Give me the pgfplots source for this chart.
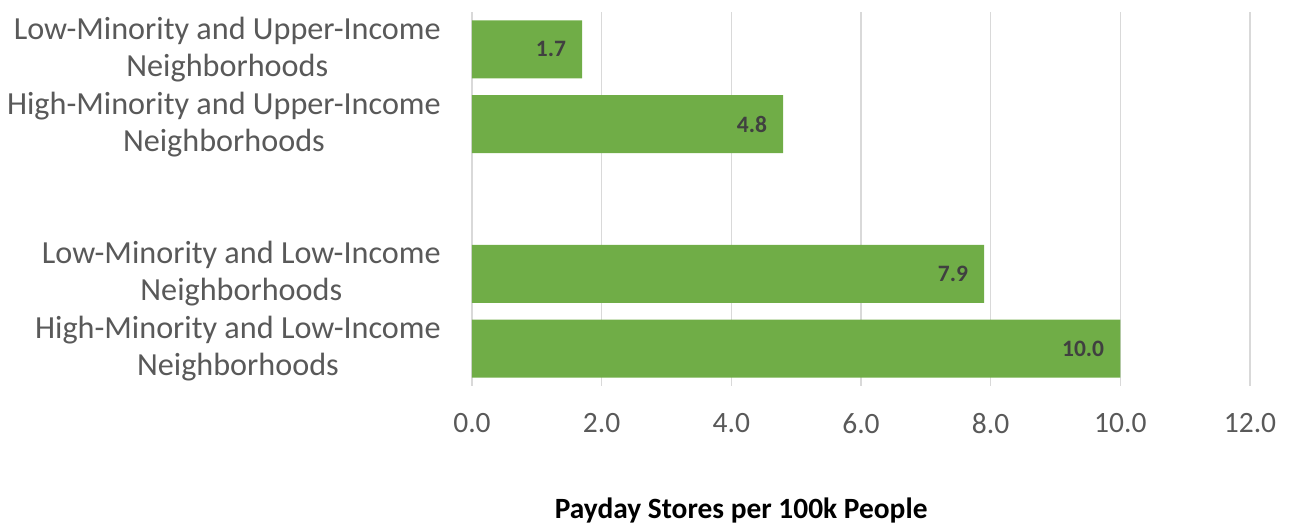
\documentclass[border=0pt]{standalone}
\usepackage{fontspec}
\setmainfont{Carlito}
\usepackage{pgfplots}
\pgfplotsset{compat=1.18}
\definecolor{bargreen}{HTML}{70AD47}
\definecolor{gridgray}{HTML}{D9D9D9}
\definecolor{ticktext}{HTML}{595959}
\definecolor{labeltext}{HTML}{404040}
\begin{document}
\begin{tikzpicture}[x=1pt,y=1pt]
\useasboundingbox (-472,-137) rectangle (819,386);
\begin{axis}[
  at={(0,0)}, anchor=south west,
  scale only axis, width=778pt, height=374pt,
  xbar, bar width=58pt,
  xmin=0, xmax=12, ymin=-0.5, ymax=4.5, y dir=reverse,
  ytick={0,1,3,4},
  yticklabels={{Low-Minority and Upper-Income\\Neighborhoods},
               {High-Minority and Upper-Income\\Neighborhoods},
               {Low-Minority and Low-Income\\Neighborhoods},
               {High-Minority and Low-Income\\Neighborhoods}},
  xtick={0,2,...,12},
  xmajorgrids, grid style={gridgray, line width=1.3pt},
  axis line style={draw=none},
  major tick length=0pt,
  /pgf/number format/assume math mode=true,
  xticklabel style={/pgf/number format/.cd, fixed, fixed zerofill, precision=1, /tikz/.cd,
    font=\fontsize{29.5}{35}\selectfont, text=ticktext, anchor=north, inner sep=0pt, yshift=-27pt},
  yticklabel style={align=center, font=\fontsize{32.2}{37.2}\selectfont, text=ticktext, inner sep=0pt, xshift=-31pt},
  xlabel={Payday Stores per 100k People},
  xlabel style={at={(axis description cs:0.346,-0.332)}, anchor=center, font=\bfseries\fontsize{29.4}{35}\selectfont, text=black},
  nodes near coords={\pgfmathprintnumber[fixed,fixed zerofill,precision=1]{\pgfplotspointmeta}},
  point meta=x,
  every node near coord/.append style={anchor=east, inner sep=0pt, xshift=-16pt,
    font=\bfseries\fontsize{23.5}{28}\selectfont, text=labeltext},
]
\addplot[fill=bargreen, draw=none] coordinates {(1.7,0) (4.8,1) (7.9,3) (10.0,4)};
\end{axis}
\end{tikzpicture}
\end{document}
